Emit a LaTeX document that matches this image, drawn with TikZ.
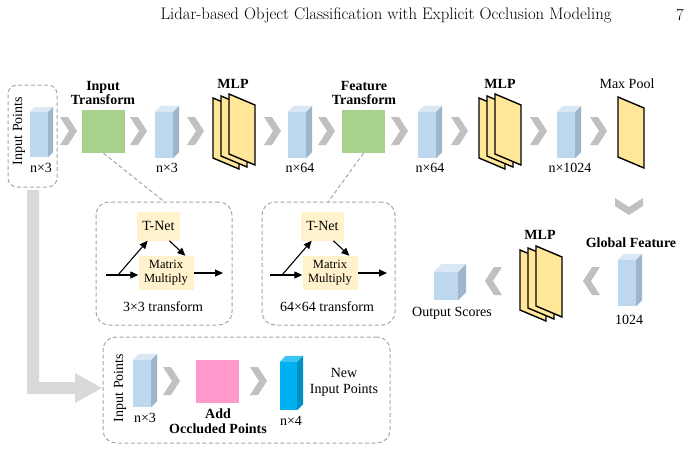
\documentclass[tikz,border=0pt]{standalone}
\usepackage{fontspec}
\newfontfamily\tnr{Liberation Serif}
\usetikzlibrary{arrows.meta,calc}
\definecolor{bF}{HTML}{BDD7EE}
\definecolor{bT}{HTML}{DAE8F5}
\definecolor{bS}{HTML}{9FB5CB}
\definecolor{cF}{HTML}{00B0F0}
\definecolor{cT}{HTML}{3CC4F5}
\definecolor{cS}{HTML}{0090C6}
\definecolor{chev}{HTML}{C0C0C0}
\definecolor{lgray}{HTML}{D9D9D9}
\definecolor{dgray}{HTML}{A6A6A6}
\definecolor{sheetc}{HTML}{FFE699}
\definecolor{greenc}{HTML}{A9D18E}
\definecolor{pinkc}{HTML}{FF99CC}
\definecolor{tnetc}{HTML}{FFF2CC}
\newcommand\cub[7]{%
  \node[fill=#7F, minimum width=#4pt, minimum height=#5pt, inner sep=0pt] (#1) at (#2,#3) {};
  \fill[#7T] (#1.north west) -- ++(#6,-#6) -- ([shift={(#6,-#6)}]#1.north east) -- (#1.north east) -- cycle;
  \fill[#7S] (#1.north east) -- ++(#6,-#6) -- ([shift={(#6,-#6)}]#1.south east) -- (#1.south east) -- cycle;
}
\newcommand\chevR[2]{\fill[chev] (#1,#2-14)--(#1+8,#2-14)--(#1+17,#2)--(#1+8,#2+14)--(#1,#2+14)--(#1+9,#2)--cycle;}
\newcommand\chevL[2]{\fill[chev] (#1,#2-14)--(#1-8,#2-14)--(#1-17,#2)--(#1-8,#2+14)--(#1,#2+14)--(#1-9,#2)--cycle;}
\newcommand\chevD[2]{\fill[chev] (#1-14,#2)--(#1-14,#2+8)--(#1,#2+17)--(#1+14,#2+8)--(#1+14,#2)--(#1,#2+9)--cycle;}
\newcommand\sheet[2]{\filldraw[fill=sheetc, draw=black, line width=1.4pt, line join=miter] (#1,#2)--(#1+26,#2+11)--(#1+26,#2+71)--(#1,#2+60)--cycle;}
\newcommand\mlp[2]{\sheet{#1}{#2}\sheet{#1+8}{#2-2}\sheet{#1+16}{#2-4}}
\begin{document}
\begin{tikzpicture}[x=1pt,y=-1pt,
  lbl/.style={font=\tnr\fontsize{14}{16}\selectfont, inner sep=0pt, align=center},
  blbl/.style={font=\tnr\bfseries\fontsize{14}{14.5}\selectfont, inner sep=0pt, align=center},
  dbox/.style={draw=dgray, dash pattern=on 4pt off 2.5pt, line width=1pt, rounded corners=13pt, inner sep=0pt},
  sq/.style={minimum width=43pt, minimum height=43pt, inner sep=0pt},
  tnet/.style={fill=tnetc, inner sep=0pt, minimum width=43pt, minimum height=29pt, font=\tnr\fontsize{14}{16}\selectfont},
  mmul/.style={fill=tnetc, inner sep=0pt, minimum width=55pt, minimum height=34pt, align=center, font=\tnr\fontsize{12.5}{14}\selectfont},
  arr/.style={-{Triangle[length=8pt,width=7pt]}, line width=1.1pt},
  ln/.style={line width=1.1pt},
  dline/.style={draw=dgray, dash pattern=on 4pt off 2.5pt, line width=1pt}]
\useasboundingbox (0,0) rectangle (689,451);
% header
\node[inner sep=0pt, font=\fontsize{16.7}{18}\selectfont] (title) at (386,15) {Lidar-based Object Classification with Explicit Occlusion Modeling};
\node[inner sep=0pt, font=\fontsize{16.7}{18}\selectfont] (pnum) at (680,15) {7};
% input points box
\node[dbox, rounded corners=9pt, minimum width=49pt, minimum height=102pt] (inbox) at (32.5,136) {};
\node[lbl, rotate=90] (inlbl) at (19,131) {Input Points};
\cub{c1}{39}{134.5}{18}{45}{5}{b}
\node[lbl] (c1l) at (41,168) {n×3};
% big L arrow
\fill[lgray] (27,190) -- (39,190) -- (39,382) -- (75,382) -- (75,373) -- (102,388) -- (75,403) -- (75,394) -- (27,394) -- cycle;
% top row
\chevR{60}{131}
\node[sq, fill=greenc] (itf) at (103.5,131.5) {};
\node[blbl] (itfl) at (103,93) {Input\\Transform};
\chevR{130}{131}
\cub{c2}{164}{135}{18}{46}{6}{b}
\node[lbl] (c2l) at (167,168) {n×3};
\chevR{187}{131}
\mlp{213}{98}
\node[blbl] (m1l) at (233,84) {MLP};
\chevR{264}{131}
\cub{c3}{297}{135}{18}{46}{6}{b}
\node[lbl] (c3l) at (300,168) {n×64};
\chevR{318}{131}
\node[sq, fill=greenc] (ftf) at (363.5,131.5) {};
\node[blbl] (ftfl) at (364,93) {Feature\\Transform};
\chevR{391}{131}
\cub{c4}{427}{135}{18}{46}{6}{b}
\node[lbl] (c4l) at (430,168) {n×64};
\chevR{451}{131}
\mlp{479}{98}
\node[blbl] (m2l) at (500,84) {MLP};
\chevR{530}{131}
\cub{c5}{566}{135}{18}{46}{6}{b}
\node[lbl] (c5l) at (570,168) {n×1024};
\chevR{590}{131}
\sheet{618}{97}
\node[lbl] (mpl) at (627,84) {Max Pool};
% right column
\chevD{629}{198}
\node[blbl] (gfl) at (631,243) {Global Feature};
\cub{c6}{627}{283}{18}{46}{6}{b}
\node[lbl] (c6l) at (629,320) {1024};
\chevL{600}{281}
\mlp{520}{250}
\node[blbl] (m3l) at (540,235) {MLP};
\chevL{502}{281}
\cub{c7}{446}{286}{24}{28}{8}{b}
\node[lbl] (c7l) at (452,313) {Output Scores};
% transform boxes
\node[dbox, minimum width=136pt, minimum height=123pt] (tb1) at (164,263.5) {};
\node[dbox, minimum width=133pt, minimum height=123pt] (tb2) at (328.5,263.5) {};
\draw[dline] (itf.south) -- (tb1.north);
\draw[dline] (ftf.south) -- (tb2.north);
\foreach \i/\dx/\txt in {1/0/3×3 transform, 2/164/64×64 transform}{
  \node[tnet] (tn\i) at (158.5+\dx,226) {T-Net};
  \node[mmul] (mm\i) at (166+\dx,273) {Matrix\\Multiply};
  \coordinate (st\i) at (106+\dx,275);
  \coordinate (br\i) at (118+\dx,275);
  \coordinate (en\i) at (223+\dx,273);
  \draw[ln] (st\i) -- (br\i);
  \draw[arr] (br\i) -- (mm\i.west |- br\i);
  \draw[arr] (br\i) -- ($(tn\i.south west)!0.25!(tn\i.south east)$);
  \draw[arr] ($(tn\i.south west)!0.75!(tn\i.south east)$) -- ($(mm\i.north west)!0.85!(mm\i.north east)$);
  \draw[arr] (mm\i.east |- en\i) -- (en\i);
  \node[lbl] (tl\i) at (163+\dx,307) {\txt};
}
% bottom box
\node[dbox, minimum width=287pt, minimum height=106pt] (bb) at (246.5,390) {};
\node[lbl, rotate=90] (bil) at (120,388) {Input Points};
\cub{c8}{142}{383.5}{18}{47}{6}{b}
\node[lbl] (c8l) at (145,418) {n×3};
\chevR{163}{381}
\node[sq, fill=pinkc] (add) at (217.5,381.5) {};
\node[blbl] (addl) at (218,421) {Add\\Occluded Points};
\chevR{250}{381}
\cub{c9}{288.5}{386}{17}{48}{6}{c}
\node[lbl] (c9l) at (291,421) {n×4};
\node[lbl] (newl) at (344,382) {New\\Input Points};
\end{tikzpicture}
\end{document}
